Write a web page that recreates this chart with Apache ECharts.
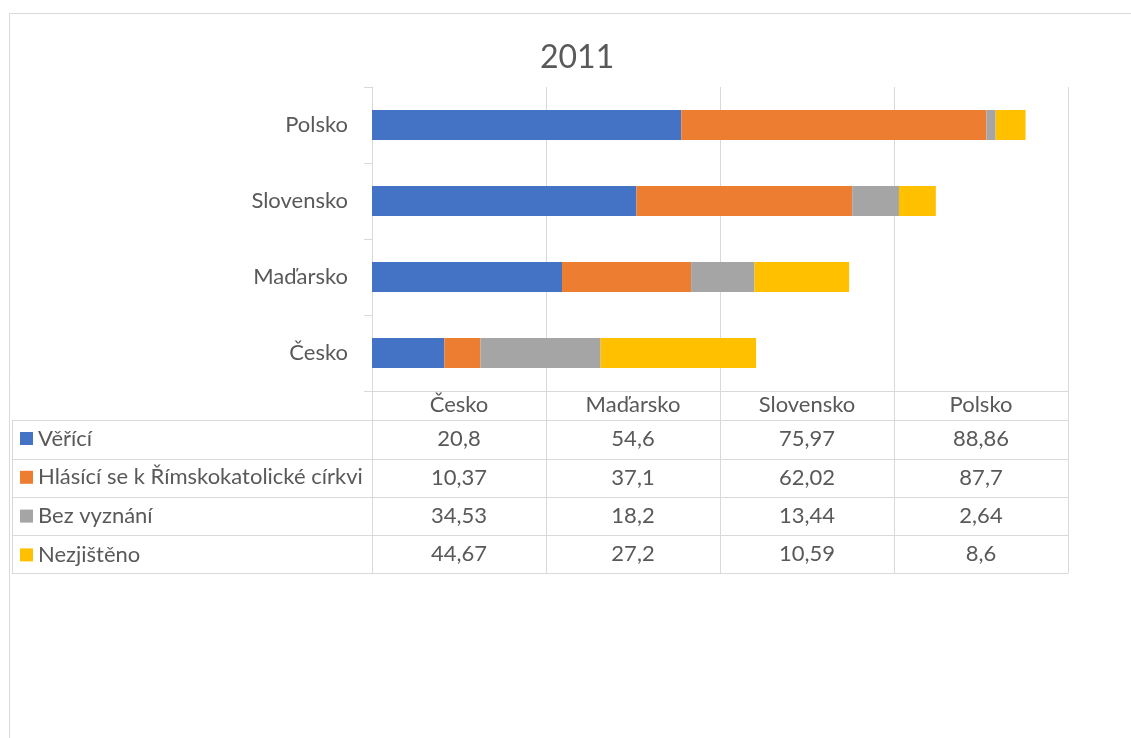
<!DOCTYPE html>
<html>
<head>
<meta charset="utf-8">
<title>2011</title>
<script src="https://cdn.jsdelivr.net/npm/echarts@6/dist/echarts.min.js"></script>
<style>
  html, body { margin: 0; padding: 0; background: #fff; }
  #chart { width: 1131px; height: 738px; }
</style>
</head>
<body>
<div id="chart"></div>
<script>
// Categories and values (percent of population, census 2011)
const countries = ['Česko', 'Maďarsko', 'Slovensko', 'Polsko'];
const seriesNames = ['Věřící', 'Hlásící se k Římskokatolické církvi', 'Bez vyznání', 'Nezjištěno'];
const vericiValues = [20.8, 54.6, 75.97, 88.86];
const rimskokatValues = [10.37, 37.1, 62.02, 87.7];
const bezVyznaniValues = [34.53, 18.2, 13.44, 2.64];
const nezjistenoValues = [44.67, 27.2, 10.59, 8.6];

const seriesValues = [vericiValues, rimskokatValues, bezVyznaniValues, nezjistenoValues];
const colors = ['#4472C4', '#ED7D31', '#A5A5A5', '#FFC000'];

// Layout
const FONT = 'Lato, "Liberation Sans", sans-serif';
const FONT_SIZE = 22;
const TEXT = '#595959';
const LINE = '#D9D9D9';
const GRID = { left: 372, right: 63, top: 87, bottom: 347 };
const PLOT_BOTTOM = 738 - GRID.bottom;   // 391
const TABLE_LEFT = 12;
const HEADER_H = 29;
const ROW_H = [39, 38, 38, 38];

// Offsets (from the plot bottom) of the line under each table row
const rowOffsets = [];
{
  let acc = HEADER_H;
  rowOffsets.push(acc);
  ROW_H.forEach(h => { acc += h; rowOffsets.push(acc); });
}

const fmt = v => String(v).replace('.', ',');

const chart = echarts.init(document.getElementById('chart'), null, { renderer: 'canvas' });

// Table rows are category axes stacked under the plot: line = row border,
// ticks = column separators, labels = cell texts.
function tableAxis(labels, offset, height) {
  return {
    type: 'category',
    gridIndex: 0,
    position: 'bottom',
    offset: offset,
    data: labels,
    boundaryGap: true,
    axisLine: { show: true, lineStyle: { color: LINE, width: 1 } },
    axisTick: { show: true, inside: true, length: height, lineStyle: { color: LINE, width: 1 } },
    axisLabel: {
      show: true, inside: true, interval: 0,
      margin: Math.round(height / 2 - 10),
      color: TEXT, fontFamily: FONT, fontSize: FONT_SIZE, lineHeight: 20
    },
    splitLine: { show: false }
  };
}

const xAxes = [
  {
    type: 'value', gridIndex: 0, min: 0, max: 200, interval: 50,
    axisLine: { show: true, lineStyle: { color: LINE, width: 1 } },
    axisTick: { show: false },
    axisLabel: { show: false },
    splitLine: { show: true, lineStyle: { color: LINE, width: 1 } }
  },
  tableAxis(countries, rowOffsets[0], HEADER_H)
];
seriesValues.forEach((vals, i) => {
  xAxes.push(tableAxis(vals.map(fmt), rowOffsets[i + 1], ROW_H[i]));
});

// Chart frame and the lines of the legend column of the table
const graphics = [
  {
    type: 'rect',
    shape: { x: 9.5, y: 13.5, width: 1300, height: 900 },
    style: { fill: 'none', stroke: LINE, lineWidth: 1 },
    silent: true
  },
  {
    type: 'line',
    shape: { x1: TABLE_LEFT + 0.5, y1: PLOT_BOTTOM + rowOffsets[0], x2: TABLE_LEFT + 0.5, y2: PLOT_BOTTOM + rowOffsets[rowOffsets.length - 1] },
    style: { stroke: LINE, lineWidth: 1 },
    silent: true
  }
];
rowOffsets.forEach(off => {
  graphics.push({
    type: 'line',
    shape: { x1: TABLE_LEFT, y1: PLOT_BOTTOM + off + 0.5, x2: GRID.left, y2: PLOT_BOTTOM + off + 0.5 },
    style: { stroke: LINE, lineWidth: 1 },
    silent: true
  });
});

const legendTop = PLOT_BOTTOM + rowOffsets[0] + ROW_H[0] / 2 - 12;

chart.setOption({
  animation: false,
  backgroundColor: '#fff',
  title: {
    text: '2011',
    left: 535, top: 37,
    textStyle: { color: TEXT, fontFamily: FONT, fontSize: 32, fontWeight: 'normal' }
  },
  legend: {
    orient: 'vertical',
    left: 20,
    top: legendTop,
    padding: 0,
    itemGap: 16.8,
    itemWidth: 13,
    itemHeight: 13,
    icon: 'rect',
    selectedMode: false,
    data: seriesNames,
    textStyle: { color: TEXT, fontFamily: FONT, fontSize: FONT_SIZE, lineHeight: 20, padding: [0, 0, 0, 0] }
  },
  grid: { left: GRID.left, right: GRID.right, top: GRID.top, bottom: GRID.bottom, containLabel: false },
  xAxis: xAxes,
  yAxis: {
    type: 'category',
    data: countries,
    axisLine: { show: true, lineStyle: { color: LINE, width: 1 } },
    axisTick: { show: true, length: 8, lineStyle: { color: LINE, width: 1 } },
    axisLabel: { color: TEXT, fontFamily: FONT, fontSize: FONT_SIZE, margin: 24 },
    splitLine: { show: false }
  },
  graphic: graphics,
  series: seriesNames.map((name, i) => ({
    name: name,
    type: 'bar',
    stack: 'total',
    xAxisIndex: 0,
    yAxisIndex: 0,
    barWidth: 30,
    itemStyle: { color: colors[i] },
    data: seriesValues[i]
  }))
});
</script>
</body>
</html>
